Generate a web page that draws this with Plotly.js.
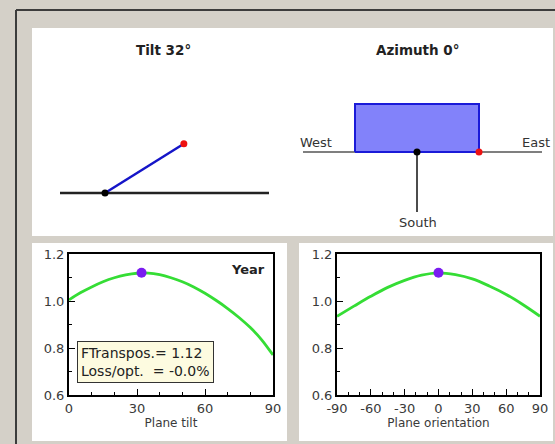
<!DOCTYPE html>
<html>
<head>
<meta charset="utf-8">
<script src="https://cdn.plot.ly/plotly-3.0.1.min.js"></script>
<style>html,body{margin:0;padding:0;background:#d4d0c8;}#chart{width:555px;height:444px;}</style>
</head>
<body>
<div id="chart"></div>
<script>
// ---- data ----
const tiltDeg = [0, 5, 10, 15, 20, 25, 30, 35, 40, 45, 50, 55, 60, 65, 70, 75, 80, 85, 90];
const tiltFT  = [1.005, 1.035, 1.060, 1.082, 1.099, 1.111, 1.118, 1.119, 1.112, 1.099, 1.082, 1.060, 1.033, 1.002, 0.968, 0.930, 0.887, 0.835, 0.770];
const orientDeg = [-90, -75, -60, -45, -30, -15, 0, 15, 30, 45, 60, 75, 90];
const orientFT  = [0.935, 0.978, 1.020, 1.058, 1.088, 1.110, 1.120, 1.112, 1.094, 1.064, 1.028, 0.984, 0.935];
const tiltTickVals = [0, 30, 60, 90];
const tiltTickText = ["0", "30", "60", "90"];
const orientTickVals = [-90, -60, -30, 0, 30, 60, 90];
const orientTickText = ["-90", "-60", "-30", "0", "30", "60", "90"];
const yTickVals = [0.6, 0.8, 1.0, 1.2];
const yTickText = ["0.6", "0.8", "1.0", "1.2"];
const optTilt = 32;
const optAzimuth = 0;
const ftTranspos = 1.12;
const lossOpt = "-0.0";
const seasonLabel = "Year";

// ---- helpers (pixel -> paper) ----
const W = 555, H = 444;
const px = x => x / W;
const py = y => 1 - y / H;

// diagram geometry (px-scaled units)
const planeLen = 93;
const rad = d => d * Math.PI / 180;
const tiltEnd = [planeLen * Math.cos(rad(optTilt)), planeLen * Math.sin(rad(optTilt))];

const halfW = 62, rectH = 48;
function rot(p) {
  const a = rad(optAzimuth);
  return [p[0] * Math.cos(a) - p[1] * Math.sin(a), p[0] * Math.sin(a) + p[1] * Math.cos(a)];
}
const rectPts = [[-halfW, 0], [halfW, 0], [halfW, rectH], [-halfW, rectH], [-halfW, 0]].map(rot);
const eastCorner = rot([halfW, 0]);

const fontFam = '"DejaVu Sans", Verdana, sans-serif';
const green = '#35dd35';
const purple = '#7a1cf0';

const traces = [
  {x: tiltDeg, y: tiltFT, type: 'scatter', mode: 'lines', line: {color: green, width: 2.8, shape: 'spline'}, xaxis: 'x', yaxis: 'y'},
  {x: [optTilt], y: [ftTranspos], type: 'scatter', mode: 'markers', marker: {color: purple, size: 10}, xaxis: 'x', yaxis: 'y', cliponaxis: false},
  {x: orientDeg, y: orientFT, type: 'scatter', mode: 'lines', line: {color: green, width: 2.8, shape: 'spline'}, xaxis: 'x2', yaxis: 'y2'},
  {x: [optAzimuth], y: [ftTranspos], type: 'scatter', mode: 'markers', marker: {color: purple, size: 10}, xaxis: 'x2', yaxis: 'y2', cliponaxis: false},
  // tilt diagram
  {x: [-45, 164], y: [0, 0], type: 'scatter', mode: 'lines', line: {color: '#222', width: 2.5}, xaxis: 'x3', yaxis: 'y3'},
  {x: [0, tiltEnd[0]], y: [0, tiltEnd[1]], type: 'scatter', mode: 'lines', line: {color: '#1515c8', width: 2.5}, xaxis: 'x3', yaxis: 'y3'},
  {x: [0], y: [0], type: 'scatter', mode: 'markers', marker: {color: '#000', size: 7}, xaxis: 'x3', yaxis: 'y3'},
  {x: [tiltEnd[0]], y: [tiltEnd[1]], type: 'scatter', mode: 'markers', marker: {color: '#ee1111', size: 7}, xaxis: 'x3', yaxis: 'y3'},
  // azimuth diagram
  {x: [-114, 125], y: [0, 0], type: 'scatter', mode: 'lines', line: {color: '#555', width: 1.5}, xaxis: 'x4', yaxis: 'y4'},
  {x: rectPts.map(p => p[0]), y: rectPts.map(p => p[1]), type: 'scatter', mode: 'lines', fill: 'toself', fillcolor: '#8282fa', line: {color: '#1a1ad8', width: 2}, xaxis: 'x4', yaxis: 'y4'},
  {x: [0, 0], y: [0, -60], type: 'scatter', mode: 'lines', line: {color: '#111', width: 1.5}, xaxis: 'x4', yaxis: 'y4'},
  {x: [0], y: [0], type: 'scatter', mode: 'markers', marker: {color: '#000', size: 7}, xaxis: 'x4', yaxis: 'y4'},
  {x: [eastCorner[0]], y: [eastCorner[1]], type: 'scatter', mode: 'markers', marker: {color: '#ee1111', size: 7}, xaxis: 'x4', yaxis: 'y4'}
];

const tickFont = {family: fontFam, size: 13, color: '#3a3a3a'};
const tickBase = {ticks: 'inside', ticklen: 6, tickwidth: 1, tickcolor: '#000'};
const minorX = {dtick: 10, ticks: 'inside', ticklen: 3, tickcolor: '#000', tickwidth: 1};
const minorY = {dtick: 0.1, ticks: 'inside', ticklen: 3, tickcolor: '#000', tickwidth: 1};

function curveX(dom, range, vals, text, title, anchor) {
  return Object.assign({
    domain: dom, range: range, anchor: anchor, showgrid: false, zeroline: false, fixedrange: true,
    showline: true, linecolor: '#000', linewidth: 2, mirror: true,
    tickvals: vals, ticktext: text, tickfont: tickFont, minor: minorX,
    title: {text: title, font: {family: fontFam, size: 12, color: '#3a3a3a'}, standoff: 0}
  }, tickBase);
}
function curveY(dom, anchor) {
  return Object.assign({
    domain: dom, range: [0.6, 1.2], anchor: anchor, showgrid: false, zeroline: false, fixedrange: true,
    showline: true, linecolor: '#000', linewidth: 2, mirror: true,
    tickvals: yTickVals, ticktext: yTickText, tickfont: tickFont, minor: minorY
  }, tickBase);
}
function mirrorX(over, range, vals, anchor) {
  return Object.assign({overlaying: over, side: 'top', anchor: anchor, range: range, showgrid: false, zeroline: false,
    fixedrange: true, showline: false, tickvals: vals, showticklabels: false, minor: minorX}, tickBase);
}
function mirrorY(over, anchor) {
  return Object.assign({overlaying: over, side: 'right', anchor: anchor, range: [0.6, 1.2], showgrid: false, zeroline: false,
    fixedrange: true, showline: false, tickvals: yTickVals, showticklabels: false, minor: minorY}, tickBase);
}
const hidden = (dom, range, anchor) => ({domain: dom, range: range, visible: false, fixedrange: true, anchor: anchor});

const yDom = [py(395), py(254)];
const layout = {
  width: W, height: H,
  margin: {l: 0, r: 0, t: 0, b: 0},
  paper_bgcolor: '#d4d0c8',
  plot_bgcolor: 'rgba(0,0,0,0)',
  showlegend: false,
  font: {family: fontFam},
  xaxis: curveX([px(69), px(273)], [0, 90], tiltTickVals, tiltTickText, 'Plane tilt', 'y'),
  yaxis: curveY(yDom, 'x'),
  xaxis2: curveX([px(337), px(540)], [-90, 90], orientTickVals, orientTickText, 'Plane orientation', 'y2'),
  yaxis2: curveY(yDom, 'x2'),
  xaxis3: hidden([px(40), px(290)], [-65, 185], 'y3'),
  yaxis3: hidden([py(230), py(60)], [-37, 133], 'x3'),
  xaxis4: hidden([px(300), px(550)], [-117, 133], 'y4'),
  yaxis4: hidden([py(230), py(60)], [-78, 92], 'x4'),
  xaxis5: mirrorX('x', [0, 90], tiltTickVals, 'y'),
  yaxis5: mirrorY('y', 'x'),
  xaxis6: mirrorX('x2', [-90, 90], orientTickVals, 'y2'),
  yaxis6: mirrorY('y2', 'x2'),
  shapes: [
    {type: 'rect', xref: 'paper', yref: 'paper', x0: px(32), x1: px(553), y0: py(236), y1: py(28), fillcolor: '#ffffff', line: {width: 0}, layer: 'below'},
    {type: 'rect', xref: 'paper', yref: 'paper', x0: px(32), x1: px(287), y0: py(441), y1: py(243), fillcolor: '#ffffff', line: {width: 0}, layer: 'below'},
    {type: 'rect', xref: 'paper', yref: 'paper', x0: px(299), x1: px(553), y0: py(441), y1: py(243), fillcolor: '#ffffff', line: {width: 0}, layer: 'below'},
    {type: 'line', xref: 'paper', yref: 'paper', x0: px(16), x1: px(16), y0: py(444), y1: py(10), line: {color: '#3c3c3c', width: 2}},
    {type: 'line', xref: 'paper', yref: 'paper', x0: px(16), x1: px(555), y0: py(10), y1: py(10), line: {color: '#3c3c3c', width: 2}}
  ],
  annotations: [
    {xref: 'paper', yref: 'paper', x: px(163), y: py(50), xanchor: 'center', yanchor: 'middle', text: '<b>Tilt ' + optTilt + '°</b>', showarrow: false, font: {family: fontFam, size: 13.5, color: '#222'}},
    {xref: 'paper', yref: 'paper', x: px(418), y: py(50), xanchor: 'center', yanchor: 'middle', text: '<b>Azimuth ' + optAzimuth + '°</b>', showarrow: false, font: {family: fontFam, size: 13.5, color: '#222'}},
    {xref: 'x4', yref: 'y4', x: -101, y: 9, xanchor: 'center', text: 'West', showarrow: false, font: {family: fontFam, size: 13, color: '#333'}},
    {xref: 'x4', yref: 'y4', x: 119, y: 9, xanchor: 'center', text: 'East', showarrow: false, font: {family: fontFam, size: 13, color: '#333'}},
    {xref: 'x4', yref: 'y4', x: 1, y: -71, xanchor: 'center', text: 'South', showarrow: false, font: {family: fontFam, size: 13, color: '#333'}},
    {xref: 'paper', yref: 'paper', x: px(267), y: py(269), xanchor: 'right', yanchor: 'middle', text: '<b>' + seasonLabel + '</b>', showarrow: false, font: {family: fontFam, size: 13, color: '#222'}},
    {xref: 'paper', yref: 'paper', x: px(77), y: py(341), xanchor: 'left', yanchor: 'top', align: 'left',
     text: 'FTranspos.= ' + ftTranspos.toFixed(2) + '<br>Loss/opt. &nbsp;= ' + lossOpt + '%',
     showarrow: false, bgcolor: '#fdfbe0', bordercolor: '#333', borderwidth: 1, borderpad: 3,
     font: {family: fontFam, size: 14, color: '#222'}}
  ]
};

Plotly.newPlot('chart', traces, layout, {staticPlot: true, displayModeBar: false});
</script>
</body>
</html>
